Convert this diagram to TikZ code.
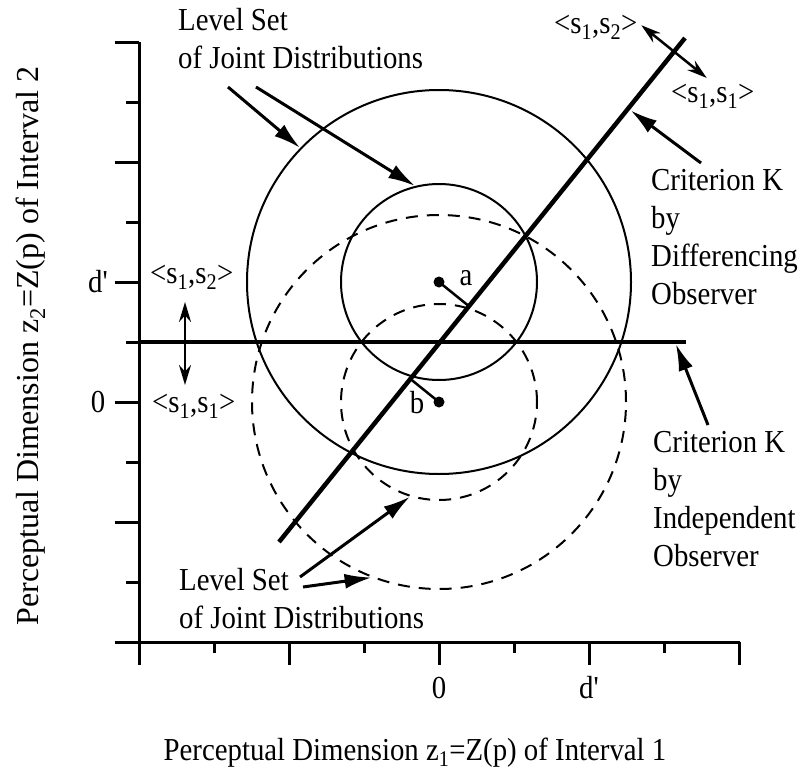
\documentclass[tikz,border=0pt]{standalone}
\usepackage{fontspec}
\newfontfamily\figfont{Liberation Serif}[FakeStretch=0.9]
\newfontfamily\titlefont{Liberation Serif}
\usetikzlibrary{calc}
\usetikzlibrary{arrows.meta}

\begin{document}
\begin{tikzpicture}[x=1pt, y=-1pt, >=latex,
    axis/.style={line width=3pt},
    level/.style={draw, circle, line width=2pt, inner sep=0pt},
    gap/.style={dash pattern=on 12pt off 9pt},
    crit/.style={line width=4.5pt},
    pointer/.style={-{Latex[length=27pt,width=15pt]}, line width=3pt},
    flip/.style={{Stealth[length=20pt,width=12pt]}-{Stealth[length=20pt,width=12pt]}, line width=2.5pt},
    lbl/.style={font=\figfont\fontsize{32}{38}\selectfont, inner sep=0pt, align=left}]

    \useasboundingbox (0,0) rectangle (803,771);

    % Means of the two joint distributions
    \coordinate (a) at (439,282);
    \coordinate (b) at (439,402);

    % Axes and ticks
    \draw[axis] (139,42) -- (139,665);
    \draw[axis] (115,642) -- (740,642);
    \foreach \x in {139,289,...,740} \draw[axis] (\x,642) -- (\x,665);
    \foreach \x in {214,364,...,665} \draw[axis] (\x,642) -- (\x,653);
    \foreach \y in {42,162,...,642} \draw[axis] (115,\y) -- (139,\y);
    \foreach \y in {102,222,...,582} \draw[axis] (126,\y) -- (139,\y);

    % Level sets
    \node[level, minimum size=384pt] (outer) at (a) {};
    \node[level, minimum size=196pt] (inner) at (a) {};
    \node[level, gap, minimum size=374pt] (outerd) at (b) {};
    \node[level, gap, minimum size=196pt] (innerd) at (b) {};

    % Criterion lines
    \coordinate (kd1) at (279,542);
    \coordinate (kd2) at (685,38);
    \coordinate (ki1) at (139,342);
    \coordinate (ki2) at (686,342);
    \draw[crit] (kd1) -- (kd2);
    \draw[crit] (ki1) -- (ki2);

    % Distances to the differencing criterion
    \draw[line width=2.5pt] (a) -- ($(kd1)!(a)!(kd2)$);
    \draw[line width=2.5pt] (b) -- ($(kd1)!(b)!(kd2)$);
    \fill (a) circle[radius=5.5];
    \fill (b) circle[radius=5.5];
    \node[lbl, anchor=base] (la) at (466,285) {a};
    \node[lbl, anchor=base] (lb) at (417,413) {b};

    % Response regions
    \coordinate (m) at ($(kd1)!0.973!(kd2)$);
    \draw[flip] ($(m)!42pt!90:(kd2)$) -- ($(m)!42pt!-90:(kd2)$);
    \draw[flip] (185,302) -- (185,385);
    \node[lbl, anchor=base west] (rs12) at (554,33) {<s\textsubscript{1},s\textsubscript{2}>};
    \node[lbl, anchor=base west] (rs11) at (671,102) {<s\textsubscript{1},s\textsubscript{1}>};
    \node[lbl, anchor=base west] (ls12) at (150,283) {<s\textsubscript{1},s\textsubscript{2}>};
    \node[lbl, anchor=base west] (ls11) at (152,412) {<s\textsubscript{1},s\textsubscript{1}>};

    % Level set labels
    \node[lbl, anchor=base west] (topset) at (178,68) {Level Set\\of Joint Distributions};
    \coordinate (t1) at (228,87);
    \coordinate (t2) at (256,87);
    \draw[pointer] (t1) -- (outer.136);
    \draw[pointer] (t2) -- (inner.104);
    \node[lbl, anchor=base west] (botset) at (179,628) {Level Set\\of Joint Distributions};
    \coordinate (t3) at (300,577);
    \coordinate (t4) at (303,587);
    \draw[pointer] (t3) -- (innerd.253);
    \draw[pointer] (t4) -- (outerd.249);

    % Criterion labels
    \node[lbl, anchor=base west] (diff) at (651,304) {Criterion K\\by\\Differencing\\Observer};
    \coordinate (t5) at (701,163);
    \draw[pointer, shorten >=3pt] (t5) -- ($(kd1)!0.86!(kd2)$);
    \node[lbl, anchor=base west] (indep) at (653,566) {Criterion K\\by\\Independent\\Observer};
    \coordinate (t6) at (708,425);
    \draw[pointer, shorten >=2pt] (t6) -- ($(ki1)!0.98!(ki2)$);

    % Axis labels
    \node[lbl, anchor=base] (x0) at (439,698) {0};
    \node[lbl, anchor=base] (xd) at (589,698) {d'};
    \node[lbl] (y0) at (98,402) {0};
    \node[lbl] (yd) at (98,282) {d'};
    \node[lbl, anchor=base] (xtitle) at (415,760) {Perceptual Dimension z\textsubscript{1}=Z(p) of Interval 1};
    \node[lbl, font=\titlefont\fontsize{32}{38}\selectfont, rotate=90] (ytitle) at (31,346) {Perceptual Dimension z\textsubscript{2}=Z(p) of Interval 2};
\end{tikzpicture}
\end{document}
